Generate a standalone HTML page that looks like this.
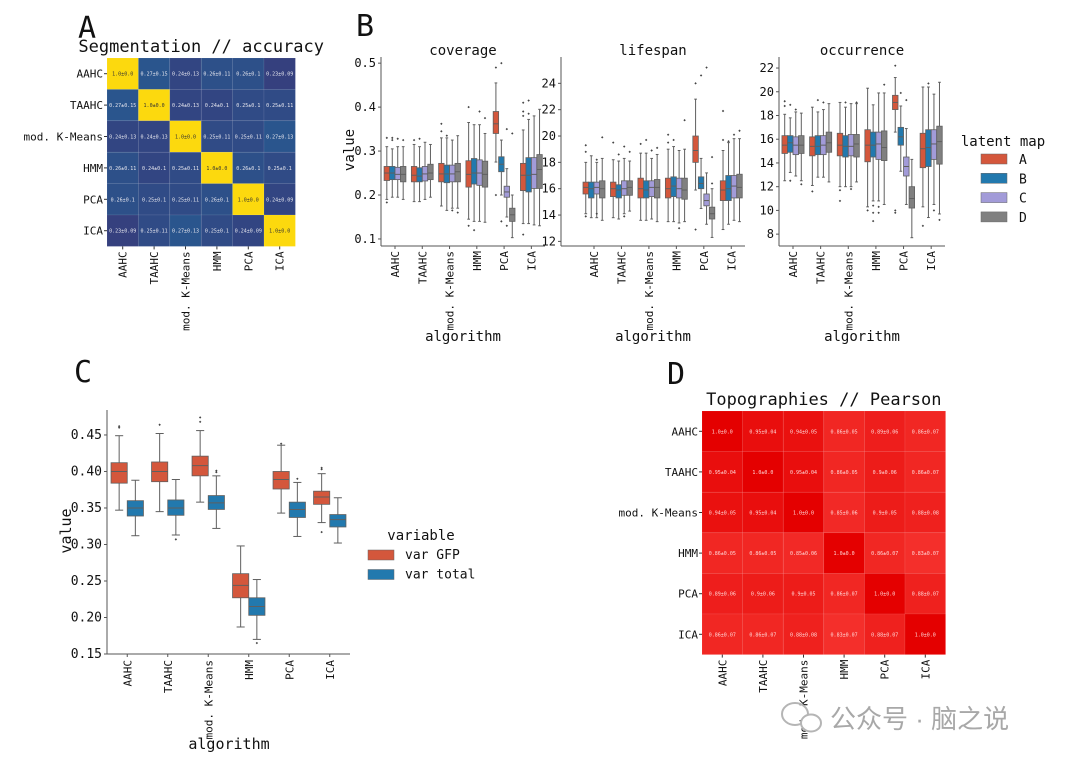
<!DOCTYPE html>
<html><head><meta charset="utf-8"><style>
html,body{margin:0;padding:0;background:#fff;}
svg{display:block;font-family:"DejaVu Sans Mono","Liberation Mono",monospace;}
</style></head><body>
<svg id="fig" width="1070" height="762" viewBox="0 0 1070 762" xmlns="http://www.w3.org/2000/svg"></svg>
<script>
// ---------- DATA ----------
const algos = ["AAHC","TAAHC","mod. K-Means","HMM","PCA","ICA"];
const maps = ["A","B","C","D"];
// Panel A: segmentation accuracy
const accVals = [
 [1.0,0.27,0.24,0.26,0.26,0.23],
 [0.27,1.0,0.24,0.24,0.25,0.25],
 [0.24,0.24,1.0,0.25,0.25,0.27],
 [0.26,0.24,0.25,1.0,0.26,0.25],
 [0.26,0.25,0.25,0.26,1.0,0.24],
 [0.23,0.25,0.27,0.25,0.24,1.0]];
const accSd = [
 [0.0,0.15,0.13,0.11,0.1,0.09],
 [0.15,0.0,0.13,0.1,0.1,0.11],
 [0.13,0.13,0.0,0.11,0.11,0.13],
 [0.11,0.1,0.11,0.0,0.1,0.1],
 [0.1,0.1,0.11,0.1,0.0,0.09],
 [0.09,0.11,0.13,0.1,0.09,0.0]];
// Panel D: topographies pearson
const topoVals = [
 [1.0,0.95,0.94,0.86,0.89,0.86],
 [0.95,1.0,0.95,0.86,0.9,0.86],
 [0.94,0.95,1.0,0.85,0.9,0.88],
 [0.86,0.86,0.85,1.0,0.86,0.83],
 [0.89,0.9,0.9,0.86,1.0,0.88],
 [0.86,0.86,0.88,0.83,0.88,1.0]];
const topoSd = [
 [0.0,0.04,0.05,0.05,0.06,0.07],
 [0.04,0.0,0.04,0.05,0.06,0.07],
 [0.05,0.04,0.0,0.06,0.05,0.08],
 [0.05,0.05,0.06,0.0,0.07,0.07],
 [0.06,0.06,0.05,0.07,0.0,0.07],
 [0.07,0.07,0.08,0.07,0.07,0.0]];
// Panel B: [whiskerLow, q1, median, q3, whiskerHigh] per algorithm
const covA = [[.19,.233,.25,.265,.31],[.185,.23,.245,.265,.315],[.175,.23,.248,.272,.33],[.145,.218,.247,.278,.365],[.275,.34,.362,.39,.455],[.135,.21,.245,.272,.348]];
const covB = [[.195,.235,.25,.265,.305],[.185,.23,.243,.262,.31],[.165,.228,.248,.268,.33],[.14,.225,.25,.283,.36],[.2,.253,.27,.287,.325],[.135,.207,.245,.285,.372]];
const covC = [[.195,.235,.247,.263,.31],[.19,.232,.248,.265,.32],[.17,.23,.248,.268,.325],[.14,.222,.25,.28,.36],[.15,.195,.207,.22,.26],[.132,.215,.247,.285,.38]];
const covD = [[.19,.23,.247,.265,.31],[.195,.235,.25,.27,.315],[.17,.23,.253,.272,.335],[.138,.218,.247,.277,.34],[.103,.14,.155,.17,.2],[.13,.215,.258,.292,.395]];
const covOut = [[.183,.33,.328,.325,.33,.325],[.325,.328],[.345,.335,.165,.16,.362],[.13,.12,.39,.375,.4],[.49,.5,.35,.34,.2,.14,.13],[.11,.385,.38,.39,.41,.415]];
const lifA = [[14.1,15.6,16.1,16.5,18],[13.8,15.4,16,16.5,18.2],[13.6,15.3,16,16.8,18.7],[13.5,15.3,16,16.8,19],[15.9,18,18.9,20,22.8],[12.9,15.1,15.9,16.6,18.9]];
const lifB = [[13.8,15.3,16,16.5,18.5],[13.7,15.3,15.9,16.3,18.1],[13.6,15.3,15.9,16.6,18.7],[13.5,15.4,16.2,16.9,19.2],[14.5,16,16.4,16.9,18.3],[13.3,15.1,16,17,19.5]];
const lifC = [[13.8,15.6,16.1,16.5,18],[14.1,15.5,16,16.6,18.3],[13.7,15.4,16.1,16.6,18.3],[13.4,15.3,16,16.8,18.9],[13.3,14.7,15.1,15.6,17.2],[13.6,15.3,16.2,17,19.8]];
const lifD = [[13.6,15.3,16,16.6,18.3],[14.3,15.5,16.1,16.6,18.1],[13.5,15.3,16.1,16.7,18.6],[13.5,15.2,15.9,16.8,19],[12.3,13.7,14.1,14.6,16],[13.5,15.3,16.1,17.1,19.8]];
const lifOut = [[19.3,18.2,14.1,19.9,18.8,13.9],[19.5,18.6,19.2,18.8,13.9],[19.4,19.7,18.9,19.1],[19.5,19.7,13,21.2,20.1],[24,24.6,25.2,18.4,12.9,16.4],[19.7,19.6,20.1,20.4,21.9]];
const occA = [[12.5,14.8,15.5,16.3,18.1],[12.1,14.6,15.4,16.2,18.7],[12,14.6,15.5,16.5,19.1],[10.3,14.1,15.5,16.8,20.3],[16.6,18.5,19.1,19.7,21.2],[10.3,13.6,15.2,16.5,20.4]];
const occB = [[13.2,14.9,15.7,16.3,17.8],[12.8,14.7,15.4,16.3,18.3],[12,14.5,15.4,16.3,18.7],[10.8,14.5,15.5,16.6,18.9],[13.3,15.5,16.2,17,18.8],[9.4,13.7,15.3,16.8,20.4]];
const occC = [[12.9,14.7,15.5,16.2,18.3],[12.8,14.7,15.5,16.3,18.5],[12,14.6,15.4,16.4,19],[10.8,14.3,15.6,16.6,19.9],[10.5,12.9,13.7,14.5,16.9],[10.5,14.3,15.6,16.8,19.8]];
const occD = [[12.5,14.8,15.5,16.3,18.2],[12.4,14.9,15.7,16.6,19],[12.4,14.5,15.6,16.4,19],[10.5,14.2,15.3,16.7,19.9],[7.7,10.2,11,12,14.3],[9.7,13.9,15.8,17.1,20.8]];
const occOut = [[18.8,12.5,18.5,12.2,19.2,18.9],[11.6,19.3,19.1],[11.7,19.1,11.8,19.1,10.8],[10,9.8,10.3,20.6,10.4,9.1,9.8],[22.2,19.9,19.3,9.8,10],[8.7,20.7,10,9.2]];
// Panel C: [whiskerLow, q1, median, q3, whiskerHigh]
const varGFP = [[.347,.384,.4,.412,.449],[.345,.386,.4,.413,.452],[.358,.394,.408,.421,.456],[.187,.227,.244,.26,.298],[.343,.376,.389,.4,.436],[.33,.355,.365,.373,.397]];
const varTotal = [[.312,.339,.35,.36,.388],[.313,.34,.35,.361,.389],[.322,.348,.357,.367,.394],[.17,.203,.215,.227,.252],[.311,.337,.348,.358,.385],[.302,.324,.334,.341,.364]];
const gfpOut = [[.46,.462],[.464],[.468,.474],[],[.438],[.317,.403,.405]];
const totalOut = [[],[.307],[.399,.401],[.165],[.39],[]];
const covTicks=[0.1,0.2,0.3,0.4,0.5], lifTicks=[12,14,16,18,20,22,24], occTicks=[8,10,12,14,16,18,20,22];
const cTicks=[0.15,0.20,0.25,0.30,0.35,0.40,0.45];

// ---------- HELPERS ----------
const NS="http://www.w3.org/2000/svg";
const svg=document.getElementById('fig');
function el(tag,attrs,parent,txt){const e=document.createElementNS(NS,tag);for(const k in attrs)e.setAttribute(k,attrs[k]);if(txt!==undefined)e.textContent=txt;(parent||svg).appendChild(e);return e;}
function lin(d0,d1,r0,r1){return v=>r0+(v-d0)*(r1-r0)/(d1-d0);}
function hex(c){return [1,3,5].map(i=>parseInt(c.substr(i,2),16));}
function mix(a,b,t){const A=hex(a),B=hex(b);return 'rgb('+A.map((x,i)=>Math.round(x+(B[i]-x)*t)).join(',')+')';}
function fmtNum(v){return Number.isInteger(v)?v.toFixed(1):String(v);}
const pal={A:'#d4573c',B:'#2279ae',C:'#a29bd8',D:'#808080'};

function label(x,y,txt,size,anchor,name,parent,extra){
  const t=el('text',Object.assign({x:x,y:y,'font-size':size,'text-anchor':anchor||'start',fill:'#111'},extra||{}),parent,txt);
  
  
  return t;
}
function rotLabel(x,y,txt,size,name,parent){
  const t=el('text',{transform:'translate('+x+','+y+') rotate(-90)','font-size':size,'text-anchor':'end',fill:'#111'},parent,txt);
  
  
  return t;
}
function drawBox(g,cx,w,st,outs,col,y,name){
  const b=el('g',{},g);
  
  
  const lc='#5f5f5f';
  el('line',{x1:cx,x2:cx,y1:y(st[0]),y2:y(st[1]),stroke:lc,'stroke-width':1},b);
  el('line',{x1:cx,x2:cx,y1:y(st[3]),y2:y(st[4]),stroke:lc,'stroke-width':1},b);
  el('line',{x1:cx-w/4,x2:cx+w/4,y1:y(st[0]),y2:y(st[0]),stroke:lc,'stroke-width':1},b);
  el('line',{x1:cx-w/4,x2:cx+w/4,y1:y(st[4]),y2:y(st[4]),stroke:lc,'stroke-width':1},b);
  el('rect',{x:cx-w/2,y:y(st[3]),width:w,height:y(st[1])-y(st[3]),fill:col,stroke:lc,'stroke-width':0.8},b);
  el('line',{x1:cx-w/2,x2:cx+w/2,y1:y(st[2]),y2:y(st[2]),stroke:lc,'stroke-width':1},b);
  (outs||[]).forEach(o=>{el('path',{d:'M'+(cx-1.2)+','+y(o)+'l1.2,-1.2l1.2,1.2l-1.2,1.2z',fill:'#444'},b);});
}

// ---------- PANEL LETTERS ----------
[['A',78,38],['B',356,36],['C',74,382],['D',667,384]].forEach(p=>{
  label(p[1],p[2],p[0],30,'start','panel-letter-'+p[0].toLowerCase());
});

// ---------- HEATMAPS ----------
function heatmap(x0,y0,cs,vals,sds,colorFn,txtFn,title,prefix,fs){
  const g=el('g',{});
  
  
  label(x0+cs*3,y0-6,title,17,'middle',prefix+'-title',g);
  vals.forEach((row,i)=>row.forEach((v,j)=>{
    const r=el('rect',{x:x0+j*cs,y:y0+i*cs,width:cs,height:cs,fill:colorFn(v),stroke:'rgba(255,255,255,0.12)','stroke-width':0.6},g);
    
    
    label(x0+j*cs+cs/2,y0+i*cs+cs/2+2,fmtNum(v)+'±'+fmtNum(sds[i][j]),fs,'middle',prefix+'-cell-value',g,{fill:txtFn(v)});
  }));
  algos.forEach((a,i)=>{
    el('line',{x1:x0-3,x2:x0,y1:y0+i*cs+cs/2,y2:y0+i*cs+cs/2,stroke:'#333'},g);
    label(x0-4,y0+i*cs+cs/2+4,a,11,'end',prefix+'-y-tick-label',g);
    el('line',{x1:x0+i*cs+cs/2,x2:x0+i*cs+cs/2,y1:y0+6*cs,y2:y0+6*cs+3,stroke:'#333'},g);
    rotLabel(x0+i*cs+cs/2+4,y0+6*cs+5,a,11,prefix+'-x-tick-label',g);
  });
}
heatmap(107,58,31.4,accVals,accSd,v=>v>0.9?'#fcd90e':mix('#35407e','#2a558d',(v-0.23)/0.04),v=>v>0.9?'#333':'#e6e6ee','Segmentation // accuracy','accuracy',5);
heatmap(702,411,40.6,topoVals,topoSd,v=>mix('#f42f2b','#e40000',(v-0.83)/0.17),v=>'#ffd8d8','Topographies // Pearson','pearson',5);

// ---------- PANEL B ----------
function boxPanel(left,right,top,bottom,dom,ticks,fmt,sets,title,prefix,firstCenter,outs){
  const g=el('g',{});
  
  
  const y=lin(dom[0],dom[1],bottom,top);
  el('line',{x1:left,x2:left,y1:top,y2:bottom,stroke:'#555','stroke-width':1},g);
  el('line',{x1:left,x2:right,y1:bottom,y2:bottom,stroke:'#555','stroke-width':1},g);
  ticks.forEach(t=>{
    el('line',{x1:left-3,x2:left,y1:y(t),y2:y(t),stroke:'#555'},g);
    label(left-5,y(t)+4,fmt(t),12,'end',prefix+'-y-tick-label',g);
  });
  const gw=(right-firstCenter)/5.5;
  const bw=gw*0.8/4;
  algos.forEach((a,i)=>{
    const cx=firstCenter+i*gw;
    el('line',{x1:cx,x2:cx,y1:bottom,y2:bottom+3,stroke:'#555'},g);
    rotLabel(cx+4,bottom+5,a,11,prefix+'-x-tick-label',g);
    sets.forEach((s,k)=>{
      const bx=cx-gw*0.4+bw*(k+0.5);
      drawBox(g,bx,bw,s[i],[],pal[maps[k]],y,prefix+'-box-'+maps[k].toLowerCase());
    });
  });
  outs.forEach((arr,i)=>{
    const cx=firstCenter+i*gw;
    arr.forEach((o,k)=>{
      let m=k%4;
      for(let q=0;q<4;q++){const s=sets[(k+q)%4][i]; if(o<s[0]||o>s[4]){m=(k+q)%4;break;}}
      const bx=cx-gw*0.4+bw*(m+0.5);
      const d=el('path',{d:'M'+(bx-1.2)+','+y(o)+'l1.2,-1.2l1.2,1.2l-1.2,1.2z',fill:'#444'},g);
      
      
    });
  });
  label((left+right)/2,55,title,14,'middle',prefix+'-title',g);
  label((left+right)/2,341,'algorithm',14,'middle',prefix+'-x-axis-title',g);
}
boxPanel(381,545,57,246,[0.084,0.514],covTicks,t=>t.toFixed(1),[covA,covB,covC,covD],'coverage','coverage',395,covOut);
boxPanel(561,745,57,246,[11.65,26],lifTicks,t=>String(t),[lifA,lifB,lifC,lifD],'lifespan','lifespan',594,lifOut);
boxPanel(779,945,57,246,[7.0,22.93],occTicks,t=>String(t),[occA,occB,occC,occD],'occurrence','occurrence',793,occOut);
const vb=el('text',{transform:'translate(354,150) rotate(-90)','font-size':14,'text-anchor':'middle',fill:'#111'},svg,'value');


// legend B
const lgB=el('g',{});


label(1003,146,'latent map',14,'middle','legend-title',lgB);
maps.forEach((m,i)=>{
  const r=el('rect',{x:981,y:154+i*19.3,width:26,height:10,fill:pal[m],stroke:'#666','stroke-width':0.5},lgB);
  
  
  label(1019,164+i*19.3,m,13,'start','legend-entry-'+m.toLowerCase(),lgB);
});

// ---------- PANEL C ----------
(function(){
  const g=el('g',{});
  
  
  const left=107,right=350,top=410,bottom=654;
  const y=lin(0.15,0.4842,bottom,top);
  el('line',{x1:left,x2:left,y1:top,y2:bottom,stroke:'#555'},g);
  el('line',{x1:left,x2:right,y1:bottom,y2:bottom,stroke:'#555'},g);
  cTicks.forEach(t=>{
    el('line',{x1:left-3,x2:left,y1:y(t),y2:y(t),stroke:'#555'},g);
    label(left-5,y(t)+4,t.toFixed(2),13,'end','c-y-tick-label',g);
  });
  const gw=(right-left)/6, bw=gw*0.8/2;
  algos.forEach((a,i)=>{
    const cx=left+gw*(i+0.5);
    el('line',{x1:cx,x2:cx,y1:bottom,y2:bottom+3,stroke:'#555'},g);
    rotLabel(cx+4,bottom+6,a,11,'c-x-tick-label',g);
    drawBox(g,cx-bw/2,bw,varGFP[i],gfpOut[i],pal.A,y,'box-var-gfp');
    drawBox(g,cx+bw/2,bw,varTotal[i],totalOut[i],pal.B,y,'box-var-total');
  });
  label(229,749,'algorithm',15,'middle','c-x-axis-title',g);
  const vt=el('text',{transform:'translate(71,531) rotate(-90)','font-size':15,'text-anchor':'middle',fill:'#111'},g,'value');
  
  
  label(421,540,'variable',14,'middle','variable-legend-title',g);
  [['var GFP',pal.A],['var total',pal.B]].forEach((e,i)=>{
    const r=el('rect',{x:368,y:550+i*19.5,width:26,height:10,fill:e[1],stroke:'#666','stroke-width':0.5},g);
    
    
    label(405,559+i*19.5,e[0],13,'start','variable-legend-entry',g);
  });
})();

// ---------- WATERMARK ----------
const wm=el('g',{});


el('ellipse',{cx:795,cy:714,rx:13,ry:11,fill:'none',stroke:'#b5b5b5','stroke-width':2},wm);
el('ellipse',{cx:811,cy:723,rx:10,ry:8.5,fill:'#fff',stroke:'#b5b5b5','stroke-width':2},wm);
const wt=el('text',{x:830,y:728,'font-size':26,fill:'#a8a8a8','font-family':'"Liberation Sans","Noto Sans CJK SC",sans-serif'},wm,'公众号 · 脑之说');


</script>
</body></html>
